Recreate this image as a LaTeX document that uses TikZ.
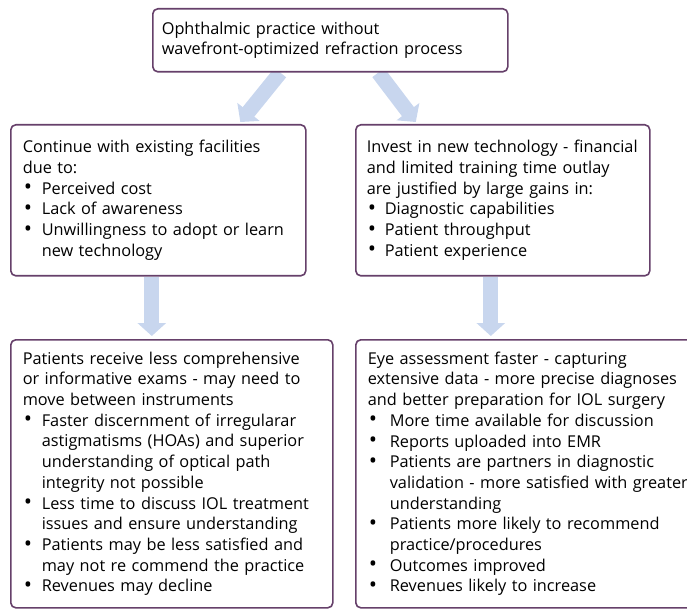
\documentclass[tikz,border=0pt]{standalone}
\usepackage{fontspec}
\setmainfont{Open Sans}
\usepackage{xcolor}
\usetikzlibrary{arrows.meta,positioning,backgrounds}
\definecolor{BoxEdge}{HTML}{66406A}
\definecolor{FlowBlue}{HTML}{C8D6EE}
\newcommand{\bitem}[2][19pt]{\makebox[#1][l]{\hspace*{1pt}\raisebox{-0.6pt}{\scalebox{1.35}{\textbullet}}}#2}
\newcommand{\bcont}[2][19pt]{\hspace*{#1}#2}
\tikzset{
  flowbox/.style={draw=BoxEdge,line width=1.6pt,rounded corners=5pt,fill=white,align=left,anchor=north west,inner ysep=2pt,font=\fontsize{16.3}{20.7}\selectfont},
  flowarrow/.style={-{Triangle[width=28pt,length=13pt]},line width=15pt,draw=FlowBlue}
}
\begin{document}
\begin{tikzpicture}[x=1pt,y=1pt]
\useasboundingbox (0,0) rectangle (687,-609);
\node[flowbox,inner xsep=9pt,minimum width=355pt,minimum height=63pt,text width=337pt] (top) at (152,-8)
  {Ophthalmic practice without\\wavefront-optimized refraction process};
\node[flowbox,inner xsep=12pt,minimum width=295pt,minimum height=151pt,text width=271pt] (keep) at (10,-124)
  {Continue with existing facilities\\due to:\\
   \bitem{Perceived cost}\\
   \bitem{Lack of awareness}\\
   \bitem{Unwillingness to adopt or learn}\\
   \bcont{new technology}};
\node[flowbox,inner xsep=11pt,minimum width=294pt,minimum height=151pt,text width=272pt] (invest) at (355,-124)
  {Invest in new technology - financial\\and limited training time outlay\\are justified by large gains in:\\
   \bitem[18pt]{Diagnostic capabilities}\\
   \bitem[18pt]{Patient throughput}\\
   \bitem[18pt]{Patient experience}};
\node[flowbox,inner xsep=12pt,minimum width=322pt,minimum height=268pt,text width=298pt] (worse) at (10,-339)
  {Patients receive less comprehensive\\or informative exams - may need to\\move between instruments\\
   \bitem{Faster discernment of irregularar}\\
   \bcont{astigmatisms (HOAs) and superior}\\
   \bcont{understanding of optical path}\\
   \bcont{integrity not possible}\\
   \bitem{Less time to discuss IOL treatment}\\
   \bcont{issues and ensure understanding}\\
   \bitem{Patients may be less satisfied and}\\
   \bcont{may not re commend the practice}\\
   \bitem{Revenues may decline}};
\node[flowbox,inner xsep=12pt,minimum width=360pt,minimum height=268pt,text width=336pt] (better) at (355,-339)
  {Eye assessment faster - capturing\\extensive data - more precise diagnoses\\and better preparation for IOL surgery\\
   \bitem[22pt]{More time available for discussion}\\
   \bitem[22pt]{Reports uploaded into EMR}\\
   \bitem[22pt]{Patients are partners in diagnostic}\\
   \bcont[22pt]{validation - more satisfied with greater}\\
   \bcont[22pt]{understanding}\\
   \bitem[22pt]{Patients more likely to recommend}\\
   \bcont[22pt]{practice/procedures}\\
   \bitem[22pt]{Outcomes improved}\\
   \bitem[22pt]{Revenues likely to increase}};
% broad arrows sit behind the boxes
\begin{scope}[on background layer]
\draw[flowarrow] ([xshift=-50pt]top.south) -- ([xshift=82pt,yshift=2pt]keep.north);
\draw[flowarrow] ([xshift=48pt]top.south) -- ([xshift=-87pt,yshift=2pt]invest.north);
\draw[flowarrow] ([xshift=-6.5pt]keep.south) -- ([xshift=-20pt,yshift=3pt]worse.north);
\draw[flowarrow] ([xshift=-12pt]invest.south) -- ([xshift=-45pt,yshift=3pt]better.north);
\end{scope}
\end{tikzpicture}
\end{document}
